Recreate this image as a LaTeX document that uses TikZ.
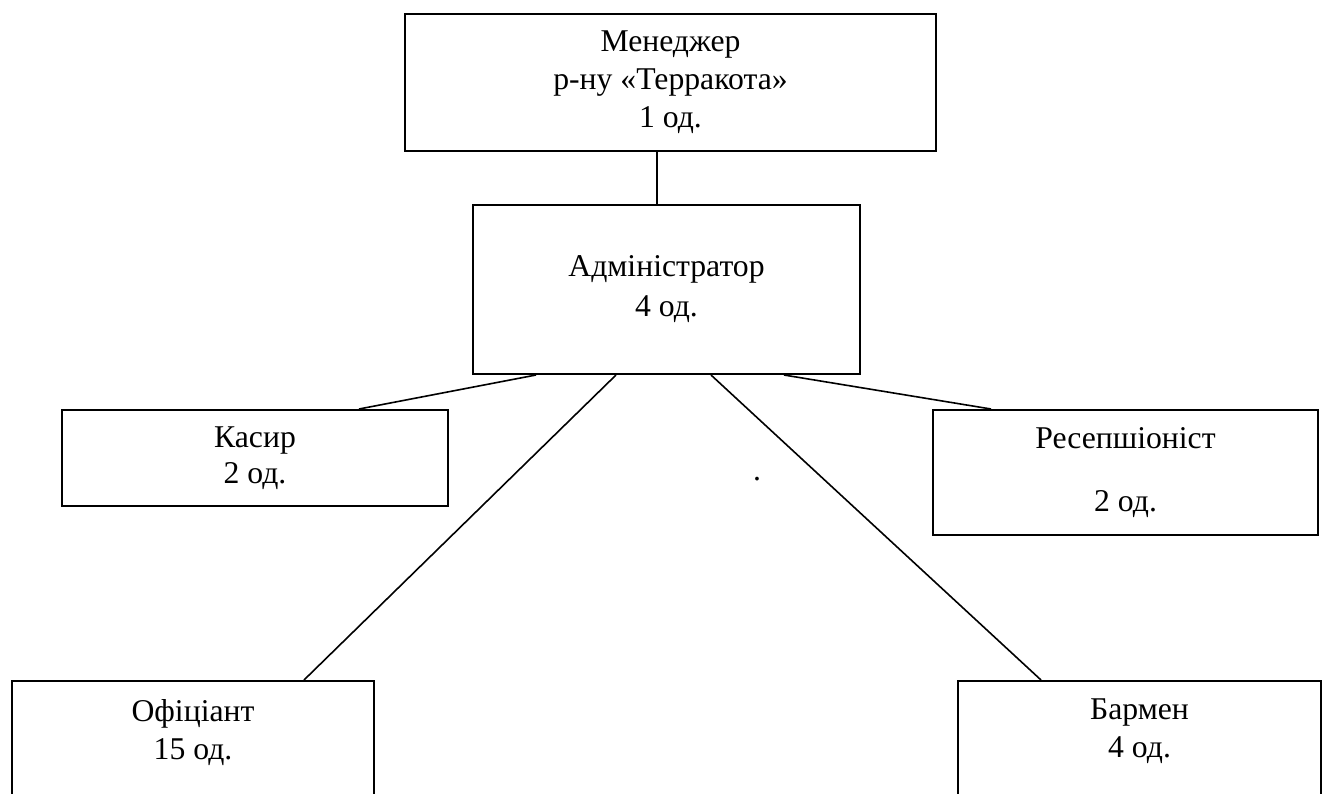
\documentclass[tikz,border=0pt]{standalone}
\usepackage{fontspec}
\setmainfont{Liberation Serif}
\usepackage{tikz}
\usetikzlibrary{shapes}

\begin{document}
\begin{tikzpicture}[x=1pt,y=-1pt,line width=2pt]
    \tikzstyle{post}=[draw, rectangle, inner sep=0pt, align=center, text=black,
                      font=\fontsize{31.7}{38}\selectfont]
    \tikzstyle{postlow}=[style=post, anchor=north, inner ysep=18pt, text depth=140pt]
    \tikzstyle{link}=[draw, line width=1.6pt]

    \useasboundingbox (0,0) rectangle (1325,793);
    \clip (0,0) rectangle (1325,793);

    \node[post, minimum width=531, minimum height=137] (mgr)     at (670.5,82.5)  {Менеджер\\ р-ну «Терракота»\\ 1 од.};
    \node[post, minimum width=387, minimum height=169] (admin)   at (666.5,289.5) {Адміністратор\\[2pt] 4 од.};
    \node[post, minimum width=386, minimum height=96]  (cashier) at (255,458)     {Касир\\[-2pt] 2 од.};
    \node[post, minimum width=385, minimum height=125] (recep)   at (1125.5,472.5){Ресепшіоніст\\[25pt] 2 од.};
    \node[postlow, minimum width=362]                  (waiter)  at (193,680)     {Офіціант\\ 15 од.};
    \node[postlow, minimum width=363]                  (barman)  at (1139.5,680)  {Бармен\\ 4 од.};
    \node[font=\fontsize{31.7}{32}\selectfont, inner sep=0pt] (dot) at (757,479) {.};

    \path[link]
     ([xshift=253pt]mgr.south west)   edge ([xshift=185pt]admin.north west)
     ([xshift=64pt]admin.south west)  edge ([xshift=298pt]cashier.north west)
     ([xshift=144pt]admin.south west) edge ([xshift=293pt]waiter.north west)
     ([xshift=239pt]admin.south west) edge ([xshift=84pt]barman.north west)
     ([xshift=312pt]admin.south west) edge ([xshift=59pt]recep.north west);
  \end{tikzpicture}
\end{document}
